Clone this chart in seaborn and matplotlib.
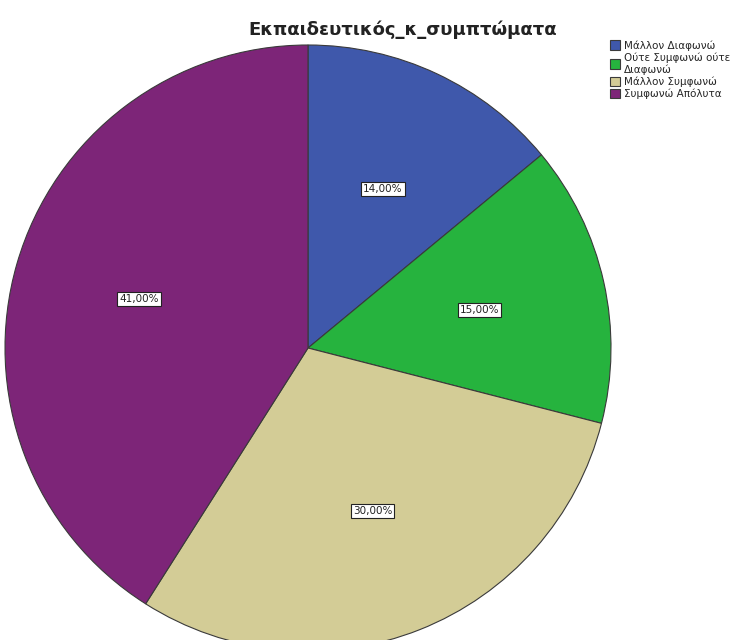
import matplotlib
matplotlib.use("Agg")
import matplotlib.pyplot as plt
import seaborn as sns

# Response categories and their percentages
categories = ["Μάλλον Διαφωνώ", "Ούτε Συμφωνώ ούτε\nΔιαφωνώ", "Μάλλον Συμφωνώ", "Συμφωνώ Απόλυτα"]
percentages = [14.0, 15.0, 30.0, 41.0]
colors = ["#3f58ab", "#26b33e", "#d3cc96", "#7d2578"]
title = "Εκπαιδευτικός_κ_συμπτώματα"

sns.set_theme(style="white")
plt.rcParams["font.family"] = ["DejaVu Sans"]
palette = sns.color_palette(colors)

fig = plt.figure(figsize=(7.56, 6.4), dpi=100)
ax = fig.add_axes([5 / 756, 1 - 651 / 640, 606 / 756, 606 / 640])

def fmt(p):
    return f"{p:.2f}".replace(".", ",") + "%"

wedges, texts, autotexts = ax.pie(
    percentages,
    colors=palette,
    startangle=90,
    counterclock=False,
    autopct=fmt,
    pctdistance=0.58,
    wedgeprops=dict(edgecolor="#3a3a3a", linewidth=0.8),
    textprops=dict(fontsize=7.5, color="#222222"),
)
for t in autotexts:
    t.set_bbox(dict(facecolor="white", edgecolor="#222222", linewidth=0.8, pad=1.5))
ax.set_aspect("equal")
ax.set_xlim(-1.0, 1.0)
ax.set_ylim(-1.0, 1.0)

fig.text(403 / 756, 1 - 30 / 640, title, ha="center", va="center",
         fontsize=13, fontweight="bold", color="#222222")

fig.legend(wedges, categories, loc="upper left", bbox_to_anchor=(609 / 756, 1 - 39 / 640),
           frameon=False, fontsize=7.5, handlelength=1.0, handleheight=1.0,
           handletextpad=0.35, labelspacing=0.15, borderaxespad=0, borderpad=0.1)

fig.savefig("out.png", dpi=100)
